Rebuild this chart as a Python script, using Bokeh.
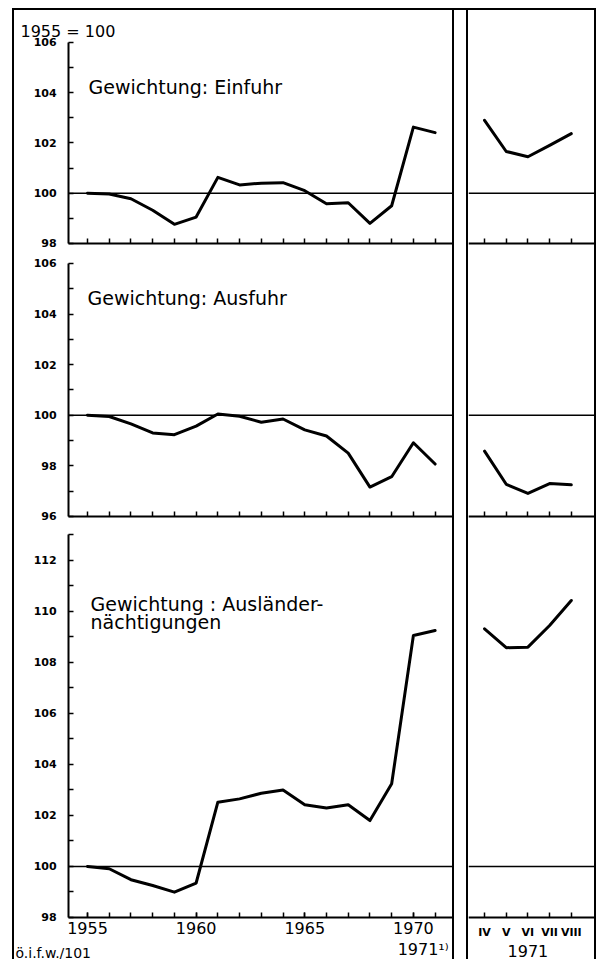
from bokeh.plotting import figure
from bokeh.layouts import column, row
from bokeh.models import Range1d, FixedTicker, Span, Label, Spacer
from bokeh.embed import file_html
from bokeh.resources import INLINE

# ---------------- data ----------------
years = list(range(1955, 1972))
einfuhr = [100.0, 99.97, 99.78, 99.32, 98.76, 99.05, 100.63, 100.33, 100.40,
           100.42, 100.10, 99.58, 99.62, 98.80, 99.50, 102.63, 102.41]
ausfuhr = [100.0, 99.95, 99.66, 99.30, 99.23, 99.57, 100.05, 99.96, 99.72,
           99.85, 99.42, 99.18, 98.50, 97.16, 97.57, 98.91, 98.07]
auslaender = [100.0, 99.91, 99.48, 99.25, 98.99, 99.35, 102.52, 102.65, 102.87,
              103.00, 102.42, 102.29, 102.42, 101.80, 103.24, 109.06, 109.25]

months = [4, 5, 6, 7, 8]
month_labels = ["IV", "V", "VI", "VII", "VIII"]
einfuhr_1971 = [102.90, 101.66, 101.45, 101.90, 102.37]
ausfuhr_1971 = [98.58, 97.27, 96.91, 97.30, 97.25]
auslaender_1971 = [109.32, 108.58, 108.60, 109.45, 110.43]

year_label_ticks = [1955, 1960, 1965, 1970]
BASE = 100
base_label = "1955 = 100"
footer_label = "ö.i.f.w./101"
footnote_year = "1971¹⁾"
month_year = "1971"
titles = [["Gewichtung: Einfuhr"], ["Gewichtung: Ausfuhr"],
          ["Gewichtung : Ausländer-", "nächtigungen"]]

# y axis ticks per panel
y1_major = [98, 100, 102, 104, 106]
y1_minor = [99, 101, 103, 105]
y2_major = [96, 98, 100, 102, 104, 106]
y2_minor = [97, 99, 101, 103, 105]
y3_major = [98, 100, 102, 104, 106, 108, 110, 112]
y3_minor = [99, 101, 103, 105, 107, 109, 111, 113]

FONT = "DejaVu Sans"

AXIS_X0 = 1954.13          # where the left value axis stands
XR_LEFT = (1951.64, 1971.8)
XR_RIGHT = (3.26, 9.07)
YR1 = (97.72, 107.27)
YR2 = (95.72, 106.51)
YR3 = (96.35, 113.45)

LW, RW = 438, 126
H1, H2, H3 = 240, 273, 436


def make_fig(width, height, xr, yr, with_yaxis):
    p = figure(width=width, height=height,
               x_range=Range1d(*xr), y_range=Range1d(*yr),
               output_backend="svg", toolbar_location=None,
               y_axis_location="left" if with_yaxis else None,
               min_border=0, min_border_left=0, min_border_right=0,
               min_border_top=0, min_border_bottom=0)
    p.outline_line_color = None
    p.xgrid.visible = False
    p.ygrid.visible = False
    p.background_fill_color = "white"
    p.border_fill_color = "white"
    return p


def style_ticks(ax):
    ax.axis_line_width = 2
    ax.axis_line_color = "black"
    ax.major_tick_in = 5
    ax.major_tick_out = 0
    ax.minor_tick_in = 5
    ax.minor_tick_out = 0
    ax.major_tick_line_width = 1.5
    ax.minor_tick_line_width = 1.5
    ax.major_tick_line_color = "black"
    ax.minor_tick_line_color = "black"
    ax.major_label_text_font = FONT
    ax.major_label_text_color = "black"


def style_yaxis(p, major, minor, bounds):
    ax = p.yaxis[0]
    ax.fixed_location = AXIS_X0
    ax.ticker = FixedTicker(ticks=major, minor_ticks=minor)
    ax.bounds = bounds
    style_ticks(ax)
    ax.major_label_text_font_style = "bold"
    ax.major_label_text_font_size = "11px"
    ax.major_label_standoff = 12


def style_xaxis(p, loc, major, minor, bounds=None, font_size="15px",
                standoff=6, bold=False, overrides=None):
    ax = p.xaxis[0]
    ax.fixed_location = loc
    ax.ticker = FixedTicker(ticks=major, minor_ticks=minor)
    if bounds is not None:
        ax.bounds = bounds
    style_ticks(ax)
    ax.major_label_text_font_size = font_size
    ax.major_label_standoff = standoff
    if bold:
        ax.major_label_text_font_style = "bold"
    if overrides:
        ax.major_label_overrides = overrides


def add_text(p, x, y, text, size, align="left", x_units="screen"):
    p.add_layout(Label(x=x, y=y, x_units=x_units, y_units="screen", text=text,
                       text_font=FONT, text_font_size=size, text_color="black",
                       text_baseline="alphabetic", text_align=align))


def draw(p, xs, ys):
    p.line(xs, ys, line_color="black", line_width=3, line_join="round",
           line_cap="round")


def base_line_left(p):
    p.segment(x0=[AXIS_X0], y0=[BASE], x1=[XR_LEFT[1]], y1=[BASE],
              line_color="black", line_width=1.5)


def base_line_right(p):
    p.add_layout(Span(location=BASE, dimension="width", line_color="black",
                      line_width=1.5))


XB = (AXIS_X0, XR_LEFT[1])

# ---------------- row 1 ----------------
f1L = make_fig(LW, H1, XR_LEFT, YR1, True)
style_yaxis(f1L, y1_major, y1_minor, (98, 106))
style_xaxis(f1L, 98, [], years, bounds=XB)
base_line_left(f1L)
draw(f1L, years, einfuhr)
add_text(f1L, 6, 219, base_label, "16px")
add_text(f1L, 74, 164, titles[0][0], "19px")

f1R = make_fig(RW, H1, XR_RIGHT, YR1, False)
style_xaxis(f1R, 98, [], months)
base_line_right(f1R)
draw(f1R, months, einfuhr_1971)

# ---------------- row 2 ----------------
f2L = make_fig(LW, H2, XR_LEFT, YR2, True)
style_yaxis(f2L, y2_major, y2_minor, (96, 106))
style_xaxis(f2L, 96, [], years, bounds=XB)
base_line_left(f2L)
draw(f2L, years, ausfuhr)
add_text(f2L, 73, 226, titles[1][0], "19px")

f2R = make_fig(RW, H2, XR_RIGHT, YR2, False)
style_xaxis(f2R, 96, [], months)
base_line_right(f2R)
draw(f2R, months, ausfuhr_1971)

# ---------------- row 3 ----------------
f3L = make_fig(LW, H3, XR_LEFT, YR3, True)
style_yaxis(f3L, y3_major, y3_minor, (98, 113))
style_xaxis(f3L, 98, year_label_ticks, years, bounds=XB,
            font_size="16px", standoff=5)
base_line_left(f3L)
draw(f3L, years, auslaender)
add_text(f3L, 76, 356, titles[2][0], "19px")
add_text(f3L, 76, 338, titles[2][1], "19px")
add_text(f3L, 1, 7, footer_label, "14px")
add_text(f3L, 1970.45, 10, footnote_year, "16px", align="center", x_units="data")

f3R = make_fig(RW, H3, XR_RIGHT, YR3, False)
style_xaxis(f3R, 98, months, [], font_size="11px", standoff=9, bold=True,
            overrides={m: t for m, t in zip(months, month_labels)})
base_line_right(f3R)
draw(f3R, months, auslaender_1971)
add_text(f3R, 6, 9, month_year, "16px", align="center", x_units="data")

BORDER = "2px solid black"
left_col = column(f1L, f2L, f3L, margin=(8, 0, 0, 12),
                  styles={"border-left": BORDER, "border-right": BORDER,
                          "border-top": BORDER})
right_col = column(f1R, f2R, f3R, margin=(8, 0, 0, 0),
                   styles={"border-left": BORDER, "border-right": BORDER,
                           "border-top": BORDER})
gap = Spacer(width=12, height=2, margin=(8, 0, 0, 0),
             styles={"background-color": "black"})
layout = row(left_col, gap, right_col)

open("out.html", "w").write(file_html(layout, INLINE))
